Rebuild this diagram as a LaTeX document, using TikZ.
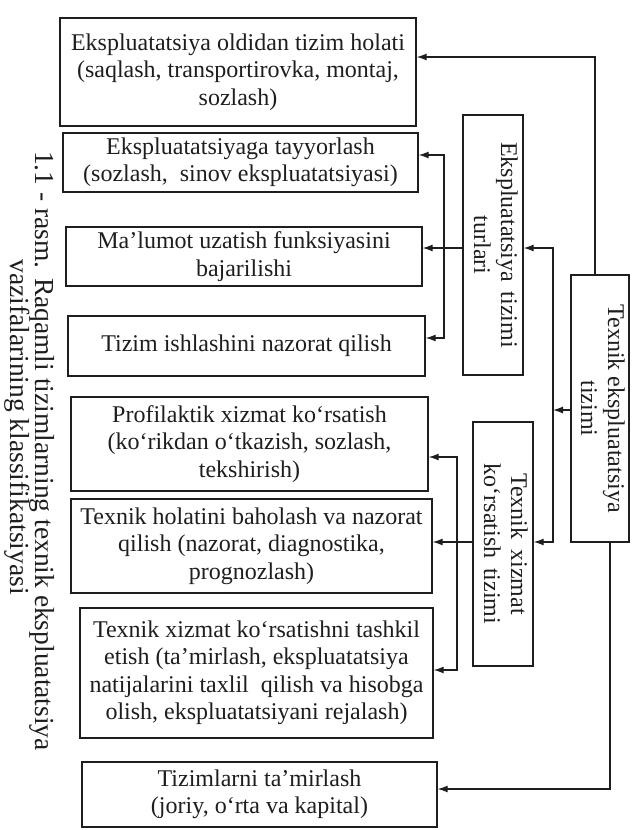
\documentclass[tikz,border=0pt]{standalone}
\usepackage{graphicx}
\usepackage{fontspec}
\setmainfont{Liberation Serif}
\usetikzlibrary{arrows.meta}
\definecolor{ink}{HTML}{1E1E1E}
\newcommand{\vtxt}[1]{\rotatebox{-90}{\begin{tabular}{@{}c@{}}#1\end{tabular}}}
\begin{document}
\begin{tikzpicture}[x=1pt,y=-1pt,
  box/.style={draw=ink, text=ink, line width=1.3pt, inner sep=0pt, align=center, font=\fontsize{24}{27.5}\selectfont},
  vbox/.style={draw=ink, text=ink, line width=1.3pt, inner sep=0pt, font=\fontsize{24}{27}\selectfont},
  arr/.style={draw=ink, line width=1.3pt, -{Latex[length=10pt,width=7pt]}},
  captxt/.style={rotate=-90, text=ink, inner sep=0pt, font=\fontsize{27.5}{26}\selectfont}]
\fill[white] (0,0) rectangle (635,830);
\useasboundingbox (0,0) rectangle (635,830);

% left boxes
\node[box, minimum width=356pt, minimum height=108pt] (A) at (238,72)
  {Ekspluatatsiya oldidan tizim holati\\(saqlash, transportirovka, montaj,\\sozlash)};
\node[box, minimum width=355pt, minimum height=59pt] (B) at (240.5,162.5)
  {Ekspluatatsiyaga tayyorlash\\(sozlash,\ \ sinov ekspluatatsiyasi)};
\node[box, minimum width=356pt, minimum height=59pt] (C) at (244,256.5)
  {Ma’lumot uzatish funksiyasini\\bajarilishi};
\node[box, minimum width=357pt, minimum height=60pt] (D) at (246.5,346)
  {Tizim ishlashini nazorat qilish};
\node[box, minimum width=357pt, minimum height=94pt] (E) at (249.5,444)
  {Profilaktik xizmat ko‘rsatish\\(ko‘rikdan o‘tkazish, sozlash,\\tekshirish)};
\node[box, minimum width=361pt, minimum height=94pt] (F) at (251.5,546)
  {Texnik holatini baholash va nazorat\\qilish (nazorat, diagnostika,\\prognozlash)};
\node[box, minimum width=353pt, minimum height=130pt] (G) at (256.5,673)
  {Texnik xizmat ko‘rsatishni tashkil\\etish (ta’mirlash, ekspluatatsiya\\natijalarini taxlil\ \ qilish va hisobga\\olish, ekspluatatsiyani rejalash)};
\node[box, minimum width=355pt, minimum height=65pt] (H) at (259.5,794.5)
  {Tizimlarni ta’mirlash\\(joriy, o‘rta va kapital)};

% right boxes
\node[vbox, minimum width=60pt, minimum height=260pt] (T1) at (493,245)
  {\vtxt{Ekspluatatsiya\ \,tizimi\\turlari}};
\node[vbox, minimum width=60pt, minimum height=244pt] (T2) at (503,544)
  {\vtxt{Texnik\ \,xizmat\\ko‘rsatish\ \,tizimi}};
\node[vbox, minimum width=58pt, minimum height=267pt] (TE) at (600,408.5)
  {\vtxt{Texnik ekspluatatsiya\\tizimi}};

% caption
\node[captxt] (cap1) at (42,451) {1.1 - rasm. Raqamli tizimlarning texnik ekspluatatsiya};
\node[captxt] (cap2) at (17,427) {vazifalarining klassifikatsiyasi};

% bus points
\coordinate (pA) at (595,57);
\coordinate (pB) at (444,155);
\coordinate (pC) at (444,248);
\coordinate (pD) at (444,338);
\coordinate (pT1) at (553,248);
\coordinate (pTE) at (553,410);
\coordinate (pT2) at (553,542);
\coordinate (pE) at (457,457);
\coordinate (pF) at (457,542);
\coordinate (pG) at (457,670);
\coordinate (pH) at (610,789);

% connectors
\draw[arr] (TE.north -| pA) |- (A.east |- pA);
\draw[arr] (T1.west |- pC) -- (C.east |- pC);
\draw[arr] (pC) |- (B.east |- pB);
\draw[arr] (pC) |- (D.east |- pD);
\draw[arr] (TE.west |- pTE) -- (pTE);
\draw[arr] (pTE) |- (T1.east |- pT1);
\draw[arr] (pTE) |- (T2.east |- pT2);
\draw[arr] (T2.west |- pF) -- (F.east |- pF);
\draw[arr] (pF) |- (E.east |- pE);
\draw[arr] (pF) |- (G.east |- pG);
\draw[arr] (TE.south -| pH) |- (H.east |- pH);
\end{tikzpicture}
\end{document}
